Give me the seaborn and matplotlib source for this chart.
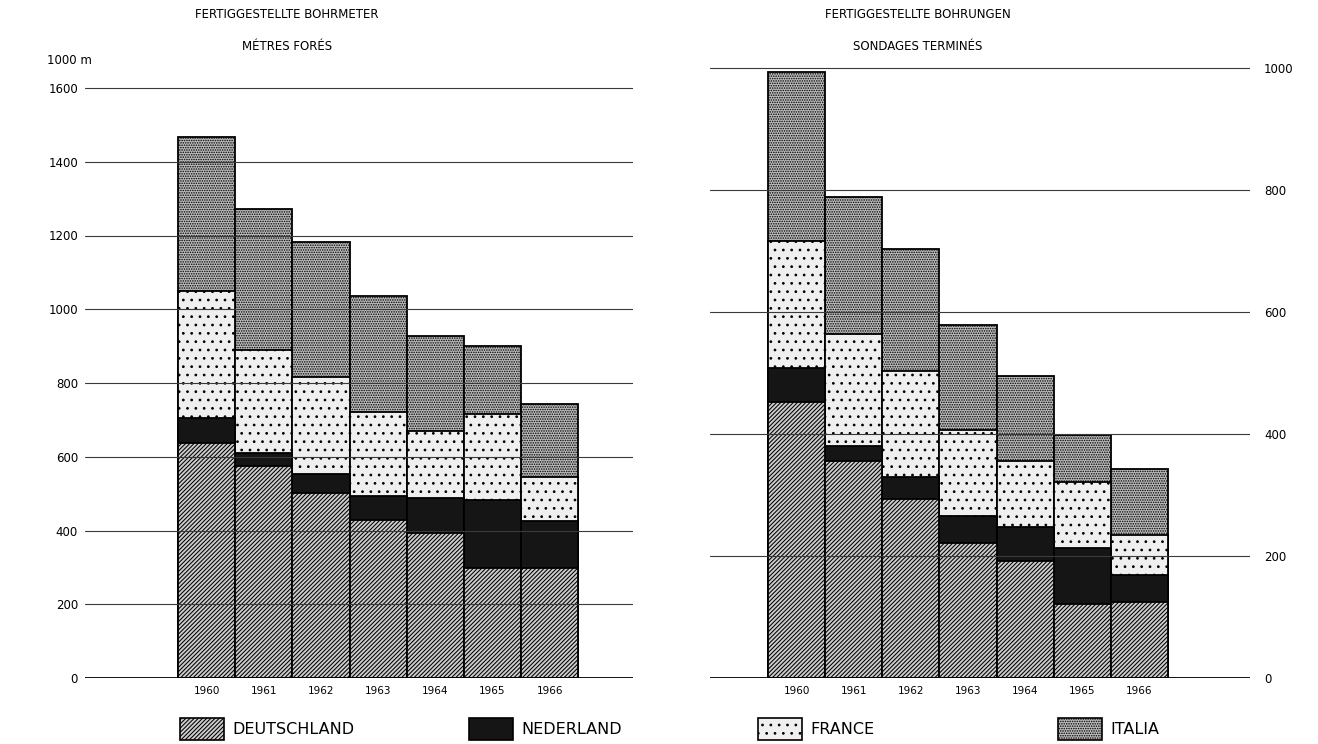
import matplotlib
matplotlib.use("Agg")
import matplotlib.pyplot as plt
import seaborn as sns
import pandas as pd
import numpy as np
from matplotlib.patches import Patch

years = ["1960", "1961", "1962", "1963", "1964", "1965", "1966"]

# Fertiggestellte Bohrmeter (1000 m)
meters_deutschland = [637, 575, 502, 428, 393, 298, 298]
meters_nederland = [68, 36, 51, 66, 95, 185, 128]
meters_france = [344, 278, 263, 228, 183, 233, 120]
meters_italia = [418, 383, 366, 314, 256, 184, 197]

# Fertiggestellte Bohrungen
wells_deutschland = [453, 356, 293, 222, 192, 122, 125]
wells_nederland = [56, 24, 37, 44, 56, 91, 44]
wells_france = [207, 184, 174, 141, 108, 109, 65]
wells_italia = [277, 225, 199, 172, 139, 76, 109]

countries = ["DEUTSCHLAND", "NEDERLAND", "FRANCE", "ITALIA"]
left_ticks = [0, 200, 400, 600, 800, 1000, 1200, 1400, 1600]
right_ticks = [0, 200, 400, 600, 800, 1000]

sns.set_theme(style="white")
plt.rcParams["font.family"] = ["DejaVu Sans"]
plt.rcParams["hatch.linewidth"] = 0.75
plt.rcParams["text.color"] = "black"
plt.rcParams["xtick.color"] = "black"
plt.rcParams["ytick.color"] = "black"

styles = {
    "DEUTSCHLAND": dict(fc="#cdcdcd", hatch="////////"),
    "NEDERLAND": dict(fc="#151515", hatch=None),
    "FRANCE": dict(fc="#efefef", hatch=".."),
    "ITALIA": dict(fc="#bcbcbc", hatch="......."),
}

W, H = 1318, 744
fig = plt.figure(figsize=(W / 100, H / 100), dpi=100)
fig.patch.set_facecolor("white")


def px_ax(x0, x1, y_bottom, y_top):
    return fig.add_axes([x0 / W, 1 - y_bottom / H, (x1 - x0) / W, (y_bottom - y_top) / H])


def draw_panel(ax, d, n, f, i, ticks, ylim, xlim, side):
    df = pd.DataFrame({"year": years, "d": d, "n": n, "f": f, "i": i})
    layers = [
        ("ITALIA", df["d"] + df["n"] + df["f"] + df["i"]),
        ("FRANCE", df["d"] + df["n"] + df["f"]),
        ("NEDERLAND", df["d"] + df["n"]),
        ("DEUTSCHLAND", df["d"]),
    ]
    for name, vals in layers:
        before = len(ax.patches)
        sns.barplot(x=df["year"], y=vals, order=years, color=styles[name]["fc"],
                    saturation=1, width=1.0, errorbar=None, ax=ax,
                    edgecolor="black", linewidth=1.3, zorder=2)
        for p in ax.patches[before:]:
            p.set_facecolor(styles[name]["fc"])
            if styles[name]["hatch"]:
                p.set_hatch(styles[name]["hatch"])
    ax.set_ylim(*ylim)
    ax.set_xlim(*xlim)
    ax.set_yticks(ticks)
    ax.set_yticklabels([str(t) for t in ticks], fontsize=8.5)
    ax.set_xticks(range(len(years)))
    ax.set_xticklabels(years, fontsize=7.5)
    ax.set_xlabel("")
    ax.set_ylabel("")
    for t in ticks[1:]:
        ax.axhline(t, color="#3a3a3a", lw=0.8, zorder=3)
    ax.axhline(0, color="black", lw=1.3, zorder=4)
    for s in ax.spines.values():
        s.set_visible(False)
    ax.tick_params(axis="x", length=0, pad=6)
    ax.tick_params(axis="y", length=0, pad=5 if side == "left" else 10)
    if side == "right":
        ax.yaxis.tick_right()
    ax.set_facecolor("none")


axL = px_ax(85, 633, 678, 678 - 1650 * 0.36875)
draw_panel(axL, meters_deutschland, meters_nederland, meters_france, meters_italia,
           left_ticks, (0, 1650), (-2.13, 7.46), "left")

axR = px_ax(710, 1250, 678, 678 - 1010 * 0.61)
draw_panel(axR, wells_deutschland, wells_nederland, wells_france, wells_italia,
           right_ticks, (0, 1010), (-1.52, 7.94), "right")


def ftext(x, y, s, **kw):
    fig.text(x / W, 1 - y / H, s, **kw)


ftext(287, 15, "FERTIGGESTELLTE BOHRMETER", ha="center", va="center", fontsize=8.5)
ftext(287, 46, "MÉTRES FORÉS", ha="center", va="center", fontsize=8.5)
ftext(918, 15, "FERTIGGESTELLTE BOHRUNGEN", ha="center", va="center", fontsize=8.5)
ftext(918, 46, "SONDAGES TERMINÉS", ha="center", va="center", fontsize=8.5)
ftext(47, 61, "1000 m", ha="left", va="center", fontsize=8.5)

# legend
leg_x = [180, 469, 758, 1058]
for name, x in zip(countries, leg_x):
    st = styles[name]
    h = Patch(facecolor=st["fc"], edgecolor="black", hatch=st["hatch"], linewidth=1.2)
    fig.legend(handles=[h], labels=[name], loc="center left",
               bbox_to_anchor=(x / W, 1 - 729 / H), frameon=False,
               handlelength=2.75, handleheight=1.7, handletextpad=0.55,
               prop={"size": 11.5}, borderpad=0, borderaxespad=0)

fig.savefig("out.png", dpi=100, facecolor="white")
